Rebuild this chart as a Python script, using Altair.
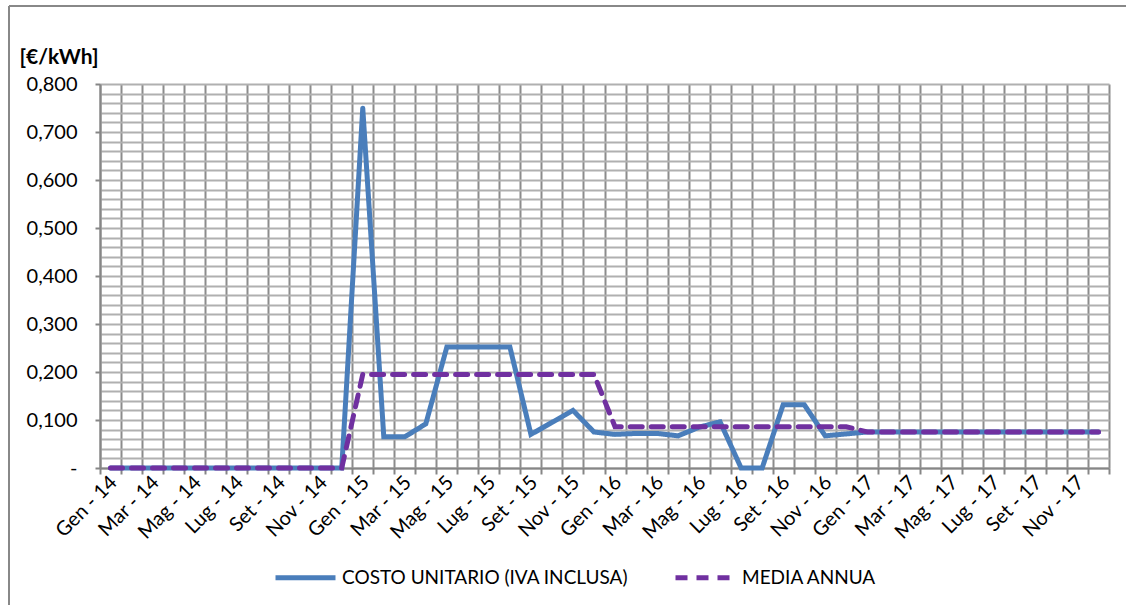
import json

import altair as alt
import pandas as pd

# Months on the x axis (Italian abbreviations), four years
months = ["Gen", "Feb", "Mar", "Apr", "Mag", "Giu", "Lug", "Ago", "Set", "Ott", "Nov", "Dic"]
years = ["14", "15", "16", "17"]
periods = [f"{m} - {y}" for y in years for m in months]

SERIE_COSTO = "COSTO UNITARIO (IVA INCLUSA)"
SERIE_MEDIA = "MEDIA ANNUA"

# Monthly unit cost, €/kWh
costo_unitario = [
    0.000, 0.000, 0.000, 0.000, 0.000, 0.000, 0.000, 0.000, 0.000, 0.000, 0.000, 0.000,
    0.750, 0.065, 0.065, 0.092, 0.252, 0.252, 0.252, 0.252, 0.070, 0.095, 0.120, 0.075,
    0.070, 0.072, 0.072, 0.067, 0.085, 0.096, 0.000, 0.000, 0.132, 0.132, 0.067, 0.071,
    0.075, 0.075, 0.075, 0.075, 0.075, 0.075, 0.075, 0.075, 0.075, 0.075, 0.075, 0.075,
]

# Yearly average, repeated on each month of the year
media_annua = [
    0.000, 0.000, 0.000, 0.000, 0.000, 0.000, 0.000, 0.000, 0.000, 0.000, 0.000, 0.000,
    0.195, 0.195, 0.195, 0.195, 0.195, 0.195, 0.195, 0.195, 0.195, 0.195, 0.195, 0.195,
    0.086, 0.086, 0.086, 0.086, 0.086, 0.086, 0.086, 0.086, 0.086, 0.086, 0.086, 0.086,
    0.075, 0.075, 0.075, 0.075, 0.075, 0.075, 0.075, 0.075, 0.075, 0.075, 0.075, 0.075,
]

n = len(periods)
df = pd.DataFrame({
    "pos": [i + 0.5 for i in range(n)] * 2,
    "periodo": periods * 2,
    "valore": costo_unitario + media_annua,
    "serie": [SERIE_COSTO] * n + [SERIE_MEDIA] * n,
})

FONT = "Lato"
W, H = 1009, 384
PAD_L, PAD_T = 100, 84
band = W / n

# Label every other month, shifted to the middle of its category
x_label_expr = (
    "datum.value % 2 == 0 && datum.value < " + str(n) + " ? "
    + json.dumps(periods) + "[datum.value] : ''"
)
is_major = "abs(datum.value * 10 - round(datum.value * 10)) < 0.001"
y_label_expr = (
    "datum.value < 0.001 ? '-\u00a0\u00a0\u00a0\u00a0' : (" + is_major
    + " ? replace(format(datum.value, '.3f'), '.', ',') : '')"
)

x_axis = alt.Axis(
    values=list(range(n + 1)),
    grid=True, gridColor="#8c8c8c", gridWidth=2,
    domainColor="#868686", domainWidth=2,
    tickColor="#868686", tickWidth=2, tickSize=6,
    labelExpr=x_label_expr, labelAngle=-45, labelAlign="right", labelBaseline="middle",
    labelOffset=band / 2 + 3, labelPadding=5, labelOverlap=False, labelLimit=0,
    labelFont=FONT, labelFontSize=20, labelColor="#000000",
    title=None,
)

y_axis = alt.Axis(
    values=[round(i * 0.02, 2) for i in range(41)],
    grid=True, gridColor="#b0b0b0", gridWidth=2,
    domainColor="#868686", domainWidth=2,
    tickColor="#868686", tickWidth=2, tickSize=5,
    tickOpacity={"condition": {"test": is_major, "value": 1}, "value": 0},
    labelExpr=y_label_expr, labelPadding=18, labelOverlap=False,
    labelFont=FONT, labelFontSize=20, labelColor="#000000",
    title="[€/kWh]", titleAngle=0, titleAlign="left", titleBaseline="middle",
    titleX=-81, titleY=-27, titleFont=FONT, titleFontSize=21, titleFontWeight="bold",
    titleColor="#000000",
)

legend = alt.Legend(
    title=None, orient="none", legendX=173, legendY=461, direction="horizontal",
    symbolType="stroke", symbolSize=3600, symbolStrokeWidth=5,
    labelFont=FONT, labelFontSize=19, labelColor="#000000", labelLimit=0,
    labelOffset=4, columnPadding=36,
)

series_domain = [SERIE_COSTO, SERIE_MEDIA]

lines = alt.Chart(df).mark_line(strokeWidth=5, strokeCap="round").encode(
    x=alt.X("pos:Q", scale=alt.Scale(domain=[0, n], nice=False, zero=False), axis=x_axis),
    y=alt.Y("valore:Q", scale=alt.Scale(domain=[0, 0.8], nice=False), axis=y_axis),
    color=alt.Color("serie:N", scale=alt.Scale(domain=series_domain, range=["#4a7ebb", "#7030a0"]),
                    legend=legend),
    strokeDash=alt.StrokeDash("serie:N", scale=alt.Scale(domain=series_domain, range=[[1, 0], [12, 9]]),
                              legend=legend),
    order=alt.Order("pos:Q"),
)

# Frame along the top and left edges of the chart area
frame_data = alt.Data(values=[{"k": 1}])
frame_top = alt.Chart(frame_data).mark_rule(color="#888888", strokeWidth=2).encode(
    x=alt.value(9 - PAD_L), x2=alt.value(1126 - PAD_L), y=alt.value(6 - PAD_T)
)
frame_left = alt.Chart(frame_data).mark_rule(color="#888888", strokeWidth=2).encode(
    x=alt.value(9 - PAD_L), y=alt.value(6 - PAD_T), y2=alt.value(605 - PAD_T)
)

chart = alt.layer(frame_top, frame_left, lines).properties(
    width=W, height=H,
    autosize=alt.AutoSizeParams(type="none"),
    padding={"left": PAD_L, "top": PAD_T, "right": 1126 - PAD_L - W, "bottom": 605 - PAD_T - H},
    background="#ffffff",
).configure_view(stroke="transparent")

chart.save("out.html", embed_options={"renderer": "svg", "actions": False})
